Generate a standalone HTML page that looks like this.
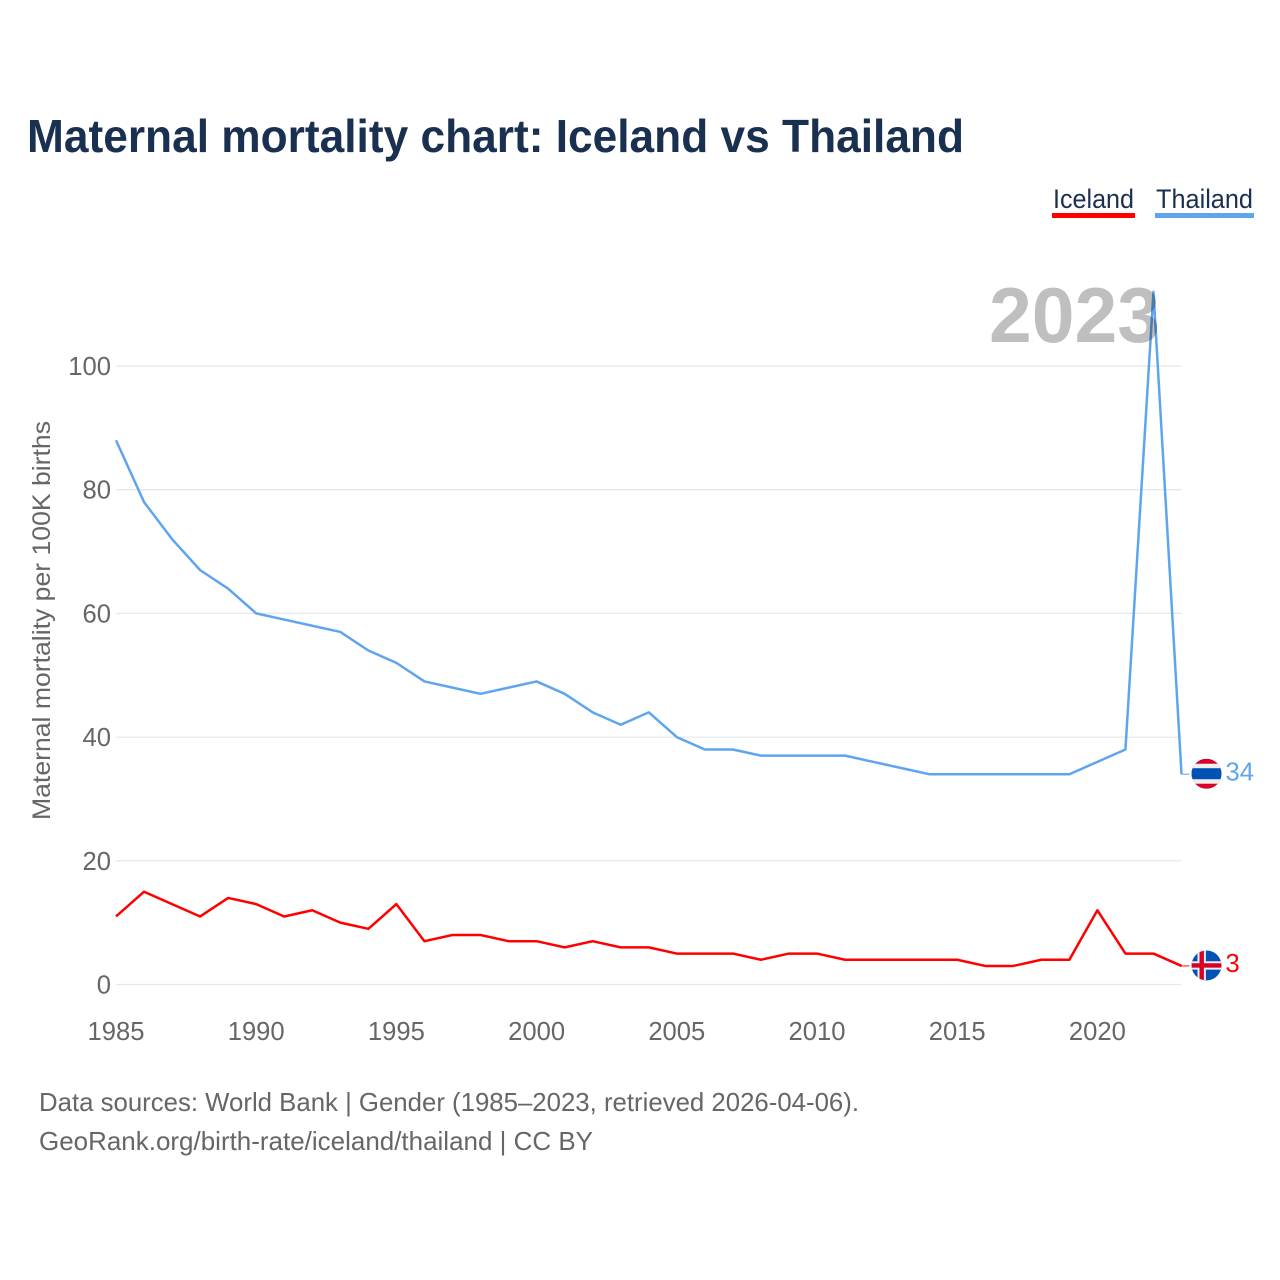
<!DOCTYPE html>
<html lang="en">
<head>
<meta charset="utf-8">
<title>Maternal mortality chart: Iceland vs Thailand</title>
<style>
html,body{margin:0;padding:0;background:#fff;}
svg{display:block;font-family:"Liberation Sans",sans-serif;}
</style>
</head>
<body>
<svg id="chart" width="1280" height="1280" viewBox="0 0 1280 1280" xmlns="http://www.w3.org/2000/svg">
  <defs>
    <clipPath id="flag-clip"><circle cx="0" cy="0" r="15"></circle></clipPath>
  </defs>
  <text x="27" y="152" font-size="46" font-weight="700" fill="#1a3050" textLength="937" lengthAdjust="spacingAndGlyphs">Maternal mortality chart: Iceland vs Thailand</text>

  <g>
    <g>
      <text x="1053" y="208" font-size="27" fill="#1a3050" textLength="81" lengthAdjust="spacingAndGlyphs">Iceland</text>
      <rect x="1052" y="213" width="83" height="5" fill="#ff0000"></rect>
    </g>
    <g>
      <text x="1156" y="208" font-size="27" fill="#1a3050" textLength="97" lengthAdjust="spacingAndGlyphs">Thailand</text>
      <rect x="1155" y="213" width="99" height="5" fill="#5fa5ee"></rect>
    </g>
  </g>

  <g id="grid"></g>
  <g id="y-ticks"></g>
  <g id="x-ticks"></g>

  <text transform="translate(50 620.5) rotate(-90)" text-anchor="middle" font-size="25" fill="#666666" textLength="399" lengthAdjust="spacingAndGlyphs">Maternal mortality per 100K births</text>

  <g id="series"></g>

  <text x="989" y="342" font-size="78" font-weight="700" fill="#000000" fill-opacity="0.25" textLength="171" lengthAdjust="spacingAndGlyphs">2023</text>

  <g id="end-markers"></g>

  <text x="39" y="1111" font-size="26" fill="#666666" textLength="820" lengthAdjust="spacingAndGlyphs">Data sources: World Bank | Gender (1985–2023, retrieved 2026-04-06).</text>
  <text x="39" y="1150" font-size="26" fill="#666666" textLength="554" lengthAdjust="spacingAndGlyphs">GeoRank.org/birth-rate/iceland/thailand | CC BY</text>
</svg>
<script>
const years = [1985,1986,1987,1988,1989,1990,1991,1992,1993,1994,1995,1996,1997,1998,1999,2000,2001,2002,2003,2004,2005,2006,2007,2008,2009,2010,2011,2012,2013,2014,2015,2016,2017,2018,2019,2020,2021,2022,2023];
const thailandValues = [88,78,72,67,64,60,59,58,57,54,52,49,48,47,48,49,47,44,42,44,40,38,38,37,37,37,37,36,35,34,34,34,34,34,34,36,38,112,34];
const icelandValues = [11,15,13,11,14,13,11,12,10,9,13,7,8,8,7,7,6,7,6,6,5,5,5,4,5,5,4,4,4,4,4,3,3,4,4,12,5,5,3];
const yTickValues = [0,20,40,60,80,100];
const xTickValues = [1985,1990,1995,2000,2005,2010,2015,2020];

const NS = 'http://www.w3.org/2000/svg';
const xScale = function (year) { return 116 + (year - 1985) * 28.04; };
const yScale = function (value) { return 984.5 - value * 6.185; };

function make(tag, parent, attrs) {
  const el = document.createElementNS(NS, tag);
  Object.keys(attrs).forEach(function (k) { el.setAttribute(k, attrs[k]); });
  parent.appendChild(el);
  return el;
}

const gridGroup = document.getElementById('grid');
const yTickGroup = document.getElementById('y-ticks');
yTickValues.forEach(function (v) {
  const line = make('line', gridGroup, { x1: xScale(1985), x2: xScale(2023), y1: yScale(v), y2: yScale(v), stroke: '#e8e8e8', 'stroke-width': 1.3 });
  
  
  const label = make('text', yTickGroup, { x: 111, y: yScale(v) + 9, 'text-anchor': 'end', 'font-size': 25.6, fill: '#666666' });
  label.textContent = v;
  
  
});

const xTickGroup = document.getElementById('x-ticks');
xTickValues.forEach(function (t) {
  const label = make('text', xTickGroup, { x: xScale(t), y: 1040, 'text-anchor': 'middle', 'font-size': 25.6, fill: '#666666' });
  label.textContent = t;
  
  
});

function pointsFor(values) {
  return values.map(function (v, i) { return xScale(years[i]).toFixed(2) + ',' + yScale(v).toFixed(2); }).join(' ');
}

const seriesGroup = document.getElementById('series');
const thailandLine = make('polyline', seriesGroup, { points: pointsFor(thailandValues), fill: 'none', stroke: '#5fa5ee', 'stroke-width': 2.5, 'stroke-linejoin': 'round' });


const icelandLine = make('polyline', seriesGroup, { points: pointsFor(icelandValues), fill: 'none', stroke: '#ff0000', 'stroke-width': 2.5, 'stroke-linejoin': 'round' });



const markerGroup = document.getElementById('end-markers');
const lastIndex = years.length - 1;

function addEnd(values, color, flagName, drawFlag) {
  const v = values[lastIndex];
  const x = xScale(years[lastIndex]);
  const y = yScale(v);
  const leader = make('line', markerGroup, { x1: x, x2: x + 8, y1: y, y2: y, stroke: color, 'stroke-width': 1 });
  
  
  const flag = make('g', markerGroup, { transform: 'translate(1206.5 ' + (y - 0.5) + ')', 'clip-path': 'url(#flag-clip)' });
  
  
  drawFlag(flag);
  const label = make('text', markerGroup, { x: 1225.5, y: y + 6.2, 'font-size': 25.6, fill: color });
  label.textContent = v;
  
  
}

addEnd(thailandValues, '#5fa5ee', 'thailand', function (g) {
  make('rect', g, { x: -15, y: -15, width: 30, height: 30, fill: '#d80027' });
  make('rect', g, { x: -15, y: -10, width: 30, height: 20, fill: '#eeeeee' });
  make('rect', g, { x: -15, y: -5.5, width: 30, height: 11, fill: '#0052b4' });
});

addEnd(icelandValues, '#ff0000', 'iceland', function (g) {
  make('rect', g, { x: -15, y: -15, width: 30, height: 30, fill: '#0052b4' });
  make('rect', g, { x: -15, y: -4.2, width: 30, height: 8.4, fill: '#eeeeee' });
  make('rect', g, { x: -9, y: -15, width: 8.4, height: 30, fill: '#eeeeee' });
  make('rect', g, { x: -15, y: -2.2, width: 30, height: 4.4, fill: '#d80027' });
  make('rect', g, { x: -7, y: -15, width: 4.4, height: 30, fill: '#d80027' });
});
</script>
</body>
</html>
